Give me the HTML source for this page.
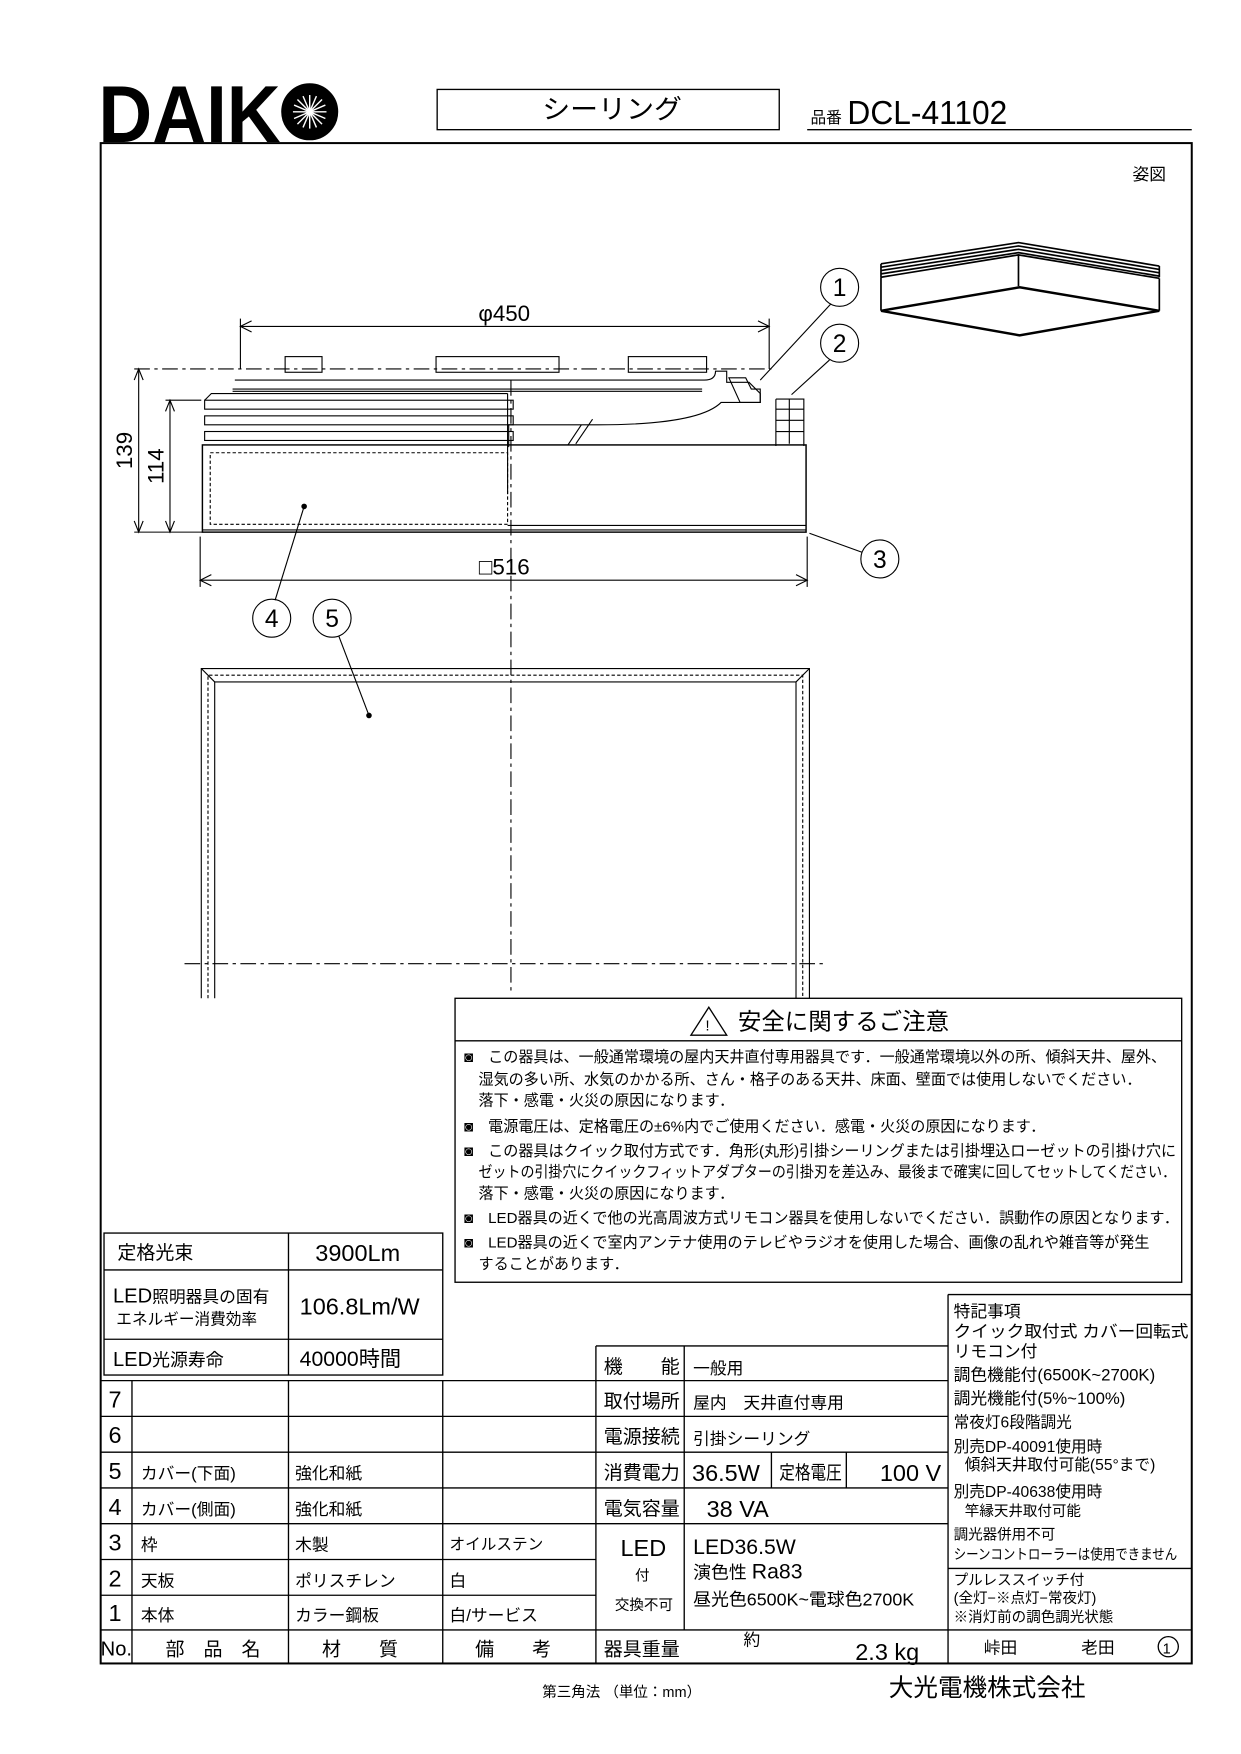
<!DOCTYPE html>
<html><head><meta charset="utf-8"><style>
html,body{margin:0;padding:0;background:#fff}
svg{display:block}
text{font-family:"Liberation Sans","Noto Sans CJK JP",sans-serif;fill:#000}
</style></head><body>
<svg width="1241" height="1754" viewBox="0 0 1110 1569" xmlns="http://www.w3.org/2000/svg">
<g fill="none" stroke="#000">
<rect x="391" y="80" width="306" height="36" stroke-width="1.2"/>
<line x1="722" y1="116" x2="1066" y2="116" stroke-width="1.2"/>
<rect x="90" y="128" width="976" height="1360" stroke-width="1.8"/>
<circle cx="277" cy="100" r="25" fill="#000"/>
</g>
<g stroke="#fff" stroke-width="1.3">
<line x1="262" y1="100" x2="292" y2="100"/><line x1="277" y1="85" x2="277" y2="115"/>
<line x1="266" y1="89" x2="288" y2="111"/><line x1="266" y1="111" x2="288" y2="89"/>
<line x1="263" y1="94" x2="291" y2="106"/><line x1="263" y1="106" x2="291" y2="94"/>
<line x1="271" y1="86" x2="283" y2="114"/><line x1="283" y1="86" x2="271" y2="114"/>
</g>
<text x="88" y="127" font-size="72" font-weight="bold" textLength="163" lengthAdjust="spacingAndGlyphs">DAIK</text>
<text x="485" y="106" font-size="24" textLength="125" lengthAdjust="spacingAndGlyphs">シーリング</text>
<text x="725" y="110" font-size="14">品番</text>
<text x="758" y="111" font-size="30" textLength="143" lengthAdjust="spacingAndGlyphs">DCL-41102</text>
<text x="1013" y="161" font-size="15">姿図</text>

<!-- isometric -->
<g fill="none" stroke="#000" stroke-width="1.5">
<path d="M788,236 L911,217 L1037,238"/>
<path d="M788,239 L911,220 L1037,241 M788,242 L911,223 L1037,244 M788,245 L911,226 L1037,247"/>
<path d="M788,236 v12 M1037,238 v10"/>
<path d="M788,248 L911,228 L1037,249 M911,228 v28"/>
<path d="M788,248 v30 M1037,249 v29"/>
<path d="M788,278 L912,257 L1037,278" stroke-width="2.2"/>
<path d="M788,278 L912,300 L1037,278" stroke-width="2.2"/>
</g>

<!-- elevation drawing -->
<g fill="none" stroke="#000" stroke-width="1">
<line x1="215" y1="292" x2="688" y2="292"/>
<path d="M225,287 l-10,5 l10,5 M678,287 l10,5 l-10,5"/>
<line x1="215" y1="285" x2="215" y2="330"/>
<line x1="688" y1="285" x2="688" y2="330"/>
<line x1="120" y1="330" x2="690" y2="330" stroke-dasharray="14,4,3,4"/>
<rect x="255" y="319" width="33" height="14"/><rect x="390" y="319" width="110" height="14"/><rect x="562" y="319" width="70" height="14"/>
<path d="M210,340 h420 q10,0 10,-8 h10 v10 h20 l10,10 v8 h-35 q-20,20 -110,20 h-80 v20"/>
<path d="M208,348 h420 M208,350 h420"/>
<rect x="183" y="358" width="276" height="8"/>
<rect x="183" y="372" width="276" height="8"/>
<rect x="183" y="386" width="276" height="8"/>
<path d="M183,358 l6,-6 h265 M454,352 v90"/>
<rect x="181" y="398" width="540" height="78" stroke-width="1.3"/>
<rect x="188" y="405" width="266" height="64" stroke-dasharray="3,2"/>
<line x1="454" y1="470" x2="721" y2="470"/>
<line x1="181" y1="474" x2="721" y2="474"/>
<line x1="457" y1="340" x2="457" y2="890" stroke-dasharray="14,4,3,4"/>
<path d="M694,357 h25 v42 M694,357 v42 M694,366 h25 M694,376 h25 M694,386 h25 M706,357 v40"/>
<path d="M652,338 h15 l5,10 h8 v12 h-18 z"/>
<path d="M520,380 l-12,18 M530,375 l-15,22"/>
<line x1="120" y1="476" x2="182" y2="476"/>
<line x1="148" y1="358" x2="180" y2="358"/>
<line x1="124" y1="330" x2="124" y2="476"/><path d="M120,340 l4,-10 l4,10 M120,466 l4,10 l4,-10"/>
<line x1="152" y1="358" x2="152" y2="476"/><path d="M148,368 l4,-10 l4,10 M148,466 l4,10 l4,-10"/>
<line x1="179" y1="480" x2="179" y2="525"/><line x1="722" y1="480" x2="722" y2="525"/>
<line x1="179" y1="519" x2="722" y2="519"/><path d="M189,514 l-10,5 l10,5 M712,514 l10,5 l-10,5"/>
<circle cx="751" cy="257" r="17"/><circle cx="751" cy="307" r="17"/><circle cx="787" cy="500" r="17"/>
<circle cx="243" cy="553" r="17"/><circle cx="297" cy="553" r="17"/>
<line x1="743" y1="272" x2="680" y2="340"/>
<line x1="742" y1="322" x2="708" y2="353"/>
<line x1="771" y1="494" x2="724" y2="477"/>
<line x1="246" y1="537" x2="272" y2="453"/>
<line x1="303" y1="569" x2="330" y2="640"/>
<path d="M180,893 V598 H724 V893"/>
<path d="M192,893 V610 H712 V893"/>
<path d="M186,893 V604 H718 V893" stroke-dasharray="3,2"/>
<line x1="180" y1="598" x2="192" y2="610"/><line x1="724" y1="598" x2="712" y2="610"/>
<line x1="165" y1="862" x2="738" y2="862" stroke-dasharray="14,4,3,4"/>
</g>
<circle cx="272" cy="453" r="2.5"/><circle cx="330" cy="640" r="2.5"/>
<g font-size="22" text-anchor="middle">
<text x="751" y="265">1</text><text x="751" y="315">2</text><text x="787" y="508">3</text>
<text x="243" y="561">4</text><text x="297" y="561">5</text>
</g>
<text x="451" y="287" font-size="20" text-anchor="middle">φ450</text>
<text x="451" y="514" font-size="20" text-anchor="middle">□516</text>
<text transform="translate(118,403) rotate(-90)" font-size="20" text-anchor="middle">139</text>
<text transform="translate(146,417) rotate(-90)" font-size="20" text-anchor="middle">114</text>

<g fill="none" stroke="#000" stroke-width="1.2">
<rect x="407" y="893" width="650" height="254"/>
<line x1="407" y1="931" x2="1057" y2="931"/>
<polygon points="634,901 618,926 650,926"/>
</g>
<text x="631" y="922" font-size="13">!</text>
<text x="660" y="921" font-size="21">安全に関するご注意</text>
<g font-size="13.5">
<text x="415" y="950">◙　この器具は、一般通常環境の屋内天井直付専用器具です．一般通常環境以外の所、傾斜天井、屋外、</text>
<text x="428" y="970">湿気の多い所、水気のかかる所、さん・格子のある天井、床面、壁面では使用しないでください．</text>
<text x="428" y="989">落下・感電・火災の原因になります．</text>
<text x="415" y="1012">◙　電源電圧は、定格電圧の±6%内でご使用ください．感電・火災の原因になります．</text>
<text x="415" y="1034">◙　この器具はクイック取付方式です．角形(丸形)引掛シーリングまたは引掛埋込ローゼットの引掛け穴に</text>
<text x="428" y="1053" textLength="624" lengthAdjust="spacingAndGlyphs">ゼットの引掛穴にクイックフィットアダプターの引掛刃を差込み、最後まで確実に回してセットしてください．</text>
<text x="428" y="1072">落下・感電・火災の原因になります．</text>
<text x="415" y="1094">◙　LED器具の近くで他の光高周波方式リモコン器具を使用しないでください．誤動作の原因となります．</text>
<text x="415" y="1116">◙　LED器具の近くで室内アンテナ使用のテレビやラジオを使用した場合、画像の乱れや雑音等が発生</text>
<text x="428" y="1135">することがあります．</text>
</g>

<g fill="none" stroke="#000" stroke-width="1.2">
<rect x="93" y="1103" width="303" height="127"/>
<line x1="93" y1="1136" x2="396" y2="1136"/><line x1="93" y1="1198" x2="396" y2="1198"/>
<line x1="258" y1="1103" x2="258" y2="1230"/>
<line x1="90" y1="1235" x2="533" y2="1235"/>
<line x1="90" y1="1267" x2="533" y2="1267"/><line x1="90" y1="1299" x2="533" y2="1299"/>
<line x1="90" y1="1331" x2="533" y2="1331"/><line x1="90" y1="1363" x2="533" y2="1363"/>
<line x1="90" y1="1395" x2="533" y2="1395"/><line x1="90" y1="1427" x2="533" y2="1427"/>
<line x1="90" y1="1458" x2="1066" y2="1458"/>
<line x1="118" y1="1235" x2="118" y2="1488"/><line x1="258" y1="1235" x2="258" y2="1488"/>
<line x1="396" y1="1235" x2="396" y2="1488"/><line x1="533" y1="1204" x2="533" y2="1488"/>
<line x1="533" y1="1204" x2="848" y2="1204"/>
<line x1="533" y1="1235" x2="848" y2="1235"/><line x1="533" y1="1267" x2="848" y2="1267"/>
<line x1="533" y1="1299" x2="848" y2="1299"/><line x1="533" y1="1331" x2="848" y2="1331"/>
<line x1="533" y1="1363" x2="848" y2="1363"/>
<line x1="612" y1="1204" x2="612" y2="1458"/>
<line x1="690" y1="1299" x2="690" y2="1331"/><line x1="757" y1="1299" x2="757" y2="1331"/>
<line x1="848" y1="1158" x2="848" y2="1488"/>
<line x1="848" y1="1158" x2="1066" y2="1158"/>
<line x1="848" y1="1403" x2="1066" y2="1403"/>
<circle cx="1045" cy="1473" r="9"/>
</g>
<g font-size="17">
<text x="105" y="1126">定格光束</text>
<text x="282" y="1128" font-size="21">3900Lm</text>
<text x="101" y="1165" font-size="18">LED<tspan font-size="15">照明器具の固有</tspan></text>
<text x="104" y="1185" font-size="14">エネルギー消費効率</text>
<text x="268" y="1176" font-size="21">106.8Lm/W</text>
<text x="101" y="1222" font-size="18">LED<tspan font-size="16">光源寿命</tspan></text>
<text x="268" y="1222" font-size="19">40000時間</text>

<g font-size="21"><text x="97" y="1259">7</text><text x="97" y="1291">6</text><text x="97" y="1323">5</text>
<text x="97" y="1355">4</text><text x="97" y="1387">3</text><text x="97" y="1419">2</text><text x="97" y="1450">1</text>
<text x="90" y="1481" font-size="18">No.</text></g>
<g font-size="15">
<text x="126" y="1323">カバー(下面)</text><text x="264" y="1323">強化和紙</text>
<text x="126" y="1355">カバー(側面)</text><text x="264" y="1355">強化和紙</text>
<text x="126" y="1387">枠</text><text x="264" y="1387">木製</text><text x="402" y="1386" font-size="14">オイルステン</text>
<text x="126" y="1419">天板</text><text x="264" y="1419">ポリスチレン</text><text x="402" y="1419">白</text>
<text x="126" y="1450">本体</text><text x="264" y="1450">カラー鋼板</text><text x="402" y="1450">白/サービス</text>
</g>
<text x="148" y="1481">部　品　名</text><text x="288" y="1481">材　　質</text><text x="425" y="1481">備　　考</text>

<text x="540" y="1228">機　　能</text><text x="620" y="1229" font-size="15">一般用</text>
<text x="540" y="1259">取付場所</text><text x="620" y="1260" font-size="15">屋内　天井直付専用</text>
<text x="540" y="1291">電源接続</text><text x="620" y="1292" font-size="15">引掛シーリング</text>
<text x="540" y="1323">消費電力</text><text x="619" y="1325" font-size="21">36.5W</text>
<text x="697" y="1323" textLength="56" lengthAdjust="spacingAndGlyphs">定格電圧</text><text x="787" y="1325" font-size="21">100 V</text>
<text x="540" y="1355">電気容量</text><text x="632" y="1357" font-size="21">38 VA</text>
<text x="555" y="1392" font-size="21">LED</text><text x="568" y="1414" font-size="13">付</text><text x="550" y="1440" font-size="13">交換不可</text>
<text x="620" y="1390" font-size="19">LED36.5W</text>
<text x="620" y="1412" font-size="16">演色性 <tspan font-size="19">Ra83</tspan></text>
<text x="620" y="1436" font-size="16">昼光色6500K~電球色2700K</text>
<text x="540" y="1481">器具重量</text><text x="665" y="1472" font-size="15">約</text>
<text x="765" y="1485" font-size="21">2.3 kg</text>

<g font-size="15">
<text x="853" y="1178">特記事項</text>
<text x="853" y="1196" textLength="210" lengthAdjust="spacingAndGlyphs">クイック取付式 カバー回転式</text>
<text x="853" y="1214">リモコン付</text>
<text x="853" y="1235">調色機能付(6500K~2700K)</text>
<text x="853" y="1256">調光機能付(5%~100%)</text>
<text x="853" y="1277" font-size="14">常夜灯6段階調光</text>
<text x="853" y="1299" font-size="14">別売DP-40091使用時</text>
<text x="863" y="1315" font-size="14">傾斜天井取付可能(55°まで)</text>
<text x="853" y="1339" font-size="14">別売DP-40638使用時</text>
<text x="863" y="1356" font-size="13">竿縁天井取付可能</text>
<text x="853" y="1377" font-size="13">調光器併用不可</text>
<text x="853" y="1395" font-size="13" textLength="200" lengthAdjust="spacingAndGlyphs">シーンコントローラーは使用できません</text>
<text x="853" y="1418" font-size="13">プルレススイッチ付</text>
<text x="853" y="1434" font-size="13">(全灯−※点灯−常夜灯)</text>
<text x="853" y="1451" font-size="13">※消灯前の調色調光状態</text>
<text x="880" y="1479">峠田</text><text x="967" y="1479">老田</text>
<text x="1040" y="1479" font-size="13">1</text>
</g>
</g>
<text x="485" y="1518" font-size="13">第三角法 （単位：mm）</text>
<text x="795" y="1517" font-size="22">大光電機株式会社</text>
</svg>
</body></html>
